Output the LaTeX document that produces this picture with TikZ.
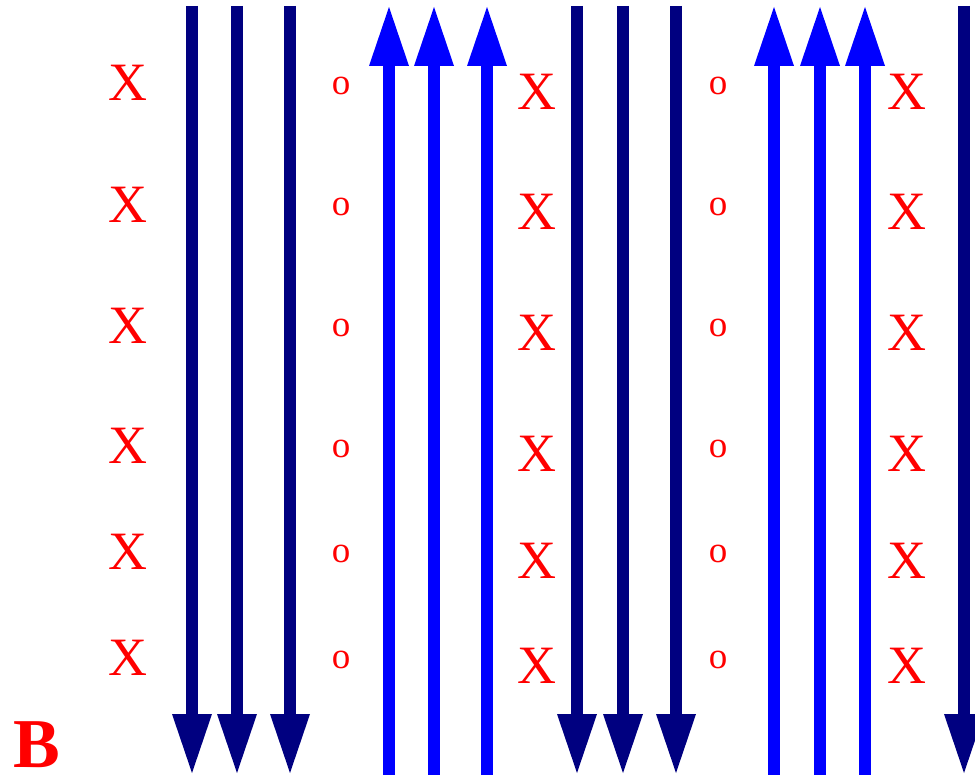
\documentclass[tikz,border=0pt]{standalone}
\usepackage{fontspec}
\setmainfont{Liberation Serif}
\usetikzlibrary{arrows.meta}
\definecolor{navyc}{HTML}{000080}
\definecolor{bluec}{HTML}{0000FF}
\definecolor{redc}{HTML}{FF0000}
\tikzset{
  downarrow/.style={draw=navyc, line width=12pt, line cap=butt,
    -{Triangle[width=40pt,length=59pt,line width=0pt,fill=navyc]}},
  uparrow/.style={draw=bluec, line width=12pt, line cap=butt,
    -{Triangle[width=40pt,length=59pt,line width=0pt,fill=bluec]}},
  bigx/.style={text=redc, inner sep=0pt, font=\fontsize{54}{54}\selectfont},
  smallo/.style={text=redc, inner sep=0pt, font=\fontsize{37}{37}\selectfont},
  panel/.style={text=redc, inner sep=0pt, font=\bfseries\fontsize{70}{70}\selectfont}
}
\begin{document}
\begin{tikzpicture}[x=1pt,y=-1pt]
\path[use as bounding box, clip] (0,0) rectangle (975,775);
% navy downward arrows
\foreach \x [count=\i] in {192,237,290,577,623,676,964}{
  \coordinate (nt\i) at (\x,6);
  \coordinate (nb\i) at (\x,773);
  \draw[downarrow] (nt\i) -- (nb\i);
}
% blue upward arrows
\foreach \x [count=\i] in {389,434,487,774,820,865}{
  \coordinate (bb\i) at (\x,780);
  \coordinate (bt\i) at (\x,7);
  \draw[uparrow] (bb\i) -- (bt\i);
}
% X column 1
\foreach \y [count=\i] in {83,205,326,446,552,658}{
  \node[bigx] (xa\i) at (128,\y) {X};
}
% X columns 2 and 3
\foreach \y [count=\i] in {92,212,333,454,561,666}{
  \node[bigx] (xb\i) at (537,\y) {X};
  \node[bigx] (xc\i) at (907,\y) {X};
}
% o columns
\foreach \y [count=\i] in {86,207,328,449,554,660}{
  \node[smallo] (oa\i) at (341,\y) {o};
  \node[smallo] (ob\i) at (718,\y) {o};
}
\node[panel] (lbl) at (37,745) {B};
\end{tikzpicture}
\end{document}
